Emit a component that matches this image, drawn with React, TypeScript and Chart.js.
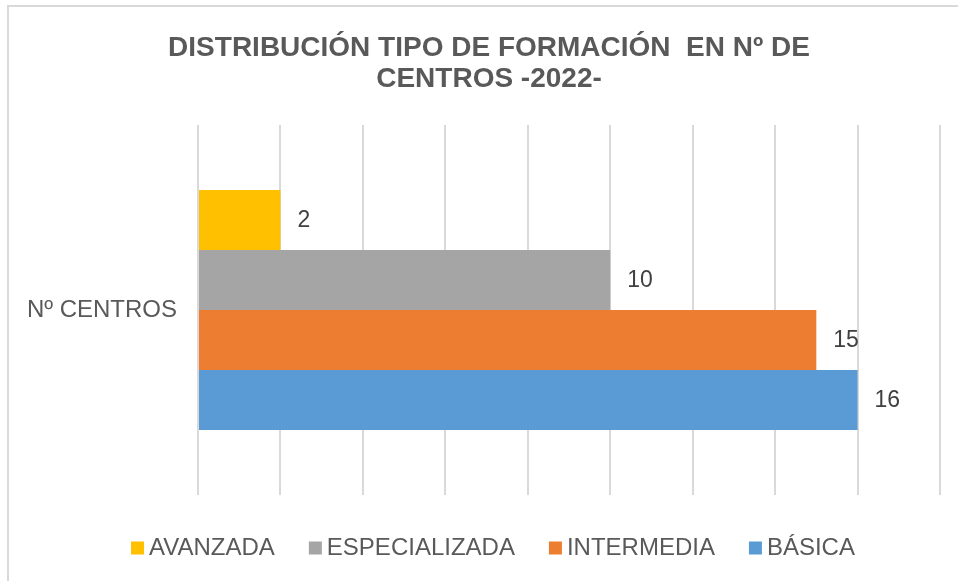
import React, { useEffect, useRef } from "react";
import { Chart, registerables } from "chart.js";

Chart.register(...registerables);

const titleLines = ["DISTRIBUCIÓN TIPO DE FORMACIÓN  EN Nº DE", "CENTROS -2022-"];
const categories = ["Nº CENTROS"];
const seriesNames = ["AVANZADA", "ESPECIALIZADA", "INTERMEDIA", "BÁSICA"];
const seriesValues = [[2], [10], [15], [16]];
const seriesColors = ["#FFC000", "#A5A5A5", "#ED7D31", "#5B9BD5"];
const xMax = 18;
const xStep = 2;

const FONT = "'Liberation Sans', Arial, sans-serif";
const TEXT_GRAY = "#595959";

const titlePlugin = {
  id: "customTitle",
  afterDraw(chart: any) {
    const ctx = chart.ctx;
    ctx.save();
    ctx.font = `bold 28px ${FONT}`;
    ctx.fillStyle = TEXT_GRAY;
    ctx.textAlign = "center";
    ctx.textBaseline = "middle";
    titleLines.forEach((line, i) => {
      ctx.fillText(line, 489, 48 + i * 31);
    });
    ctx.restore();
  },
};

const valueLabelPlugin = {
  id: "valueLabels",
  afterDatasetsDraw(chart: any) {
    const ctx = chart.ctx;
    ctx.save();
    ctx.font = `23px ${FONT}`;
    ctx.fillStyle = "#404040";
    ctx.textAlign = "left";
    ctx.textBaseline = "middle";
    chart.data.datasets.forEach((ds: any, i: number) => {
      const meta = chart.getDatasetMeta(i);
      meta.data.forEach((el: any, j: number) => {
        ctx.fillText(String(ds.data[j]), el.x + 17, el.y + 1);
      });
    });
    ctx.restore();
  },
};

const customLegendPlugin = {
  id: "customLegend",
  afterDraw(chart: any) {
    const ctx = chart.ctx;
    ctx.save();
    ctx.font = `24px ${FONT}`;
    ctx.textBaseline = "middle";
    ctx.textAlign = "left";
    const box = 13;
    const gap = 5;
    const itemGap = 34;
    const items = chart.data.datasets.map((ds: any) => ({
      label: ds.label,
      color: ds.backgroundColor,
      w: ctx.measureText(ds.label).width,
    }));
    const total =
      items.reduce((s: number, it: any) => s + box + gap + it.w, 0) +
      itemGap * (items.length - 1);
    let x = 493 - total / 2;
    const y = 548;
    items.forEach((it: any) => {
      ctx.fillStyle = it.color;
      ctx.fillRect(x, y - box / 2, box, box);
      ctx.fillStyle = TEXT_GRAY;
      ctx.fillText(it.label, x + box + gap, y);
      x += box + gap + it.w + itemGap;
    });
    ctx.restore();
  },
};

export default function App() {
  const ref = useRef<HTMLCanvasElement>(null);

  useEffect(() => {
    document.body.style.margin = "0";
    const chart = new Chart(ref.current!, {
      type: "bar",
      data: {
        labels: categories,
        datasets: seriesNames.map((name, i) => ({
          label: name,
          data: seriesValues[i],
          backgroundColor: seriesColors[i],
          borderWidth: 0,
          categoryPercentage: 0.6486,
          barPercentage: 1,
        })),
      },
      options: {
        indexAxis: "y",
        animation: false,
        responsive: false,
        maintainAspectRatio: false,
        layout: { padding: { left: 0, right: 18, top: 125, bottom: 86 } },
        scales: {
          x: {
            min: 0,
            max: xMax,
            ticks: { display: false, stepSize: xStep },
            grid: { color: "#D9D9D9", lineWidth: 2, drawTicks: false },
            border: { display: false },
          },
          y: {
            ticks: {
              color: TEXT_GRAY,
              font: { family: FONT, size: 24 },
              padding: 21,
            },
            grid: { display: false, drawTicks: false },
            border: { display: false },
            afterFit: (s: any) => {
              s.width = 198;
            },
          },
        },
        plugins: {
          legend: { display: false },
          tooltip: { enabled: false },
          title: { display: false },
        },
      },
      plugins: [titlePlugin, valueLabelPlugin, customLegendPlugin],
    });
    return () => chart.destroy();
  }, []);

  return (
    <div style={{ position: "relative", width: 958, height: 581, background: "#fff", overflow: "hidden" }}>
      <div
        style={{
          position: "absolute",
          left: 7,
          top: 5,
          right: -10,
          bottom: -10,
          borderTop: "2px solid #D9D9D9",
          borderLeft: "2px solid #D9D9D9",
        }}
      />
      <canvas ref={ref} width={958} height={581} style={{ position: "absolute", left: 0, top: 0 }} />
    </div>
  );
}
